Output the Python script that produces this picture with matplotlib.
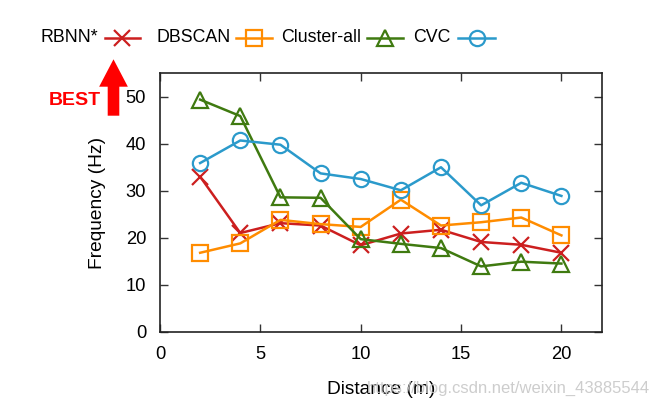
import matplotlib
matplotlib.use('Agg')
import matplotlib.pyplot as plt
from matplotlib.patches import FancyArrow

plt.rcParams['font.family'] = ['Liberation Sans', 'DejaVu Sans']

distance = [2, 4, 6, 8, 10, 12, 14, 16, 18, 20]
rbnn = [33.0, 21.0, 23.1, 22.6, 18.4, 20.9, 21.7, 19.1, 18.5, 16.8]
dbscan = [16.8, 18.8, 23.8, 22.9, 22.3, 28.1, 22.6, 23.3, 24.3, 20.5]
cluster_all = [49.4, 45.9, 28.6, 28.5, 19.7, 18.7, 17.8, 13.9, 14.9, 14.5]
cvc = [35.9, 40.7, 39.8, 33.7, 32.5, 30.1, 35.0, 26.9, 31.7, 28.9]

x_ticks = [0, 5, 10, 15, 20]
y_ticks = [0, 10, 20, 30, 40, 50]

series = [
    ("RBNN*", rbnn, '#cc1f1f', 'x'),
    ("DBSCAN", dbscan, '#ff8c00', 's'),
    ("Cluster-all", cluster_all, '#3f7a10', '^'),
    ("CVC", cvc, '#2b9acb', 'o'),
]

fig = plt.figure(figsize=(6.59, 4.05), dpi=100)
ax = fig.add_axes([0.2428, 0.181, 0.670, 0.638])

for name, vals, color, mk in series:
    ax.plot(distance, vals, color=color, lw=1.8, marker=mk, markersize=11 if mk != 'x' else 12,
            markerfacecolor='none', markeredgecolor=color, markeredgewidth=1.6)

ax.set_xlim(0, 22)
ax.set_ylim(0, 55)
ax.set_xticks(x_ticks)
ax.set_yticks(y_ticks)
ax.tick_params(direction='in', top=True, right=True, length=6, width=1, labelsize=13.2, pad=10, color='#333333')
for s in ax.spines.values():
    s.set_linewidth(1.2)
    s.set_color('#222222')
ax.set_xlabel("Distance (m)", fontsize=13.8, labelpad=13)
ax.set_ylabel("Frequency (Hz)", fontsize=13.8, labelpad=14)

# gnuplot style key: label then sample
lx_text = [40, 156, 281, 413]
lx_line = [(105, 140), (236, 272), (367, 403), (458, 495)]
ly = 38
W, H = 659, 405
for (name, vals, color, mk), tx, (x0, x1) in zip(series, lx_text, lx_line):
    fig.text(tx / W, 1 - ly / H, name, fontsize=12.8, va='center', ha='left')
    fig.add_artist(plt.Line2D([x0 / W, x1 / W], [1 - ly / H] * 2, color=color, lw=1.8,
                              transform=fig.transFigure))
    fig.add_artist(plt.Line2D([(x0 + x1) / 2 / W], [1 - ly / H], marker=mk, markersize=11 if mk != 'x' else 12,
                              markerfacecolor='none', markeredgecolor=color, markeredgewidth=1.6,
                              transform=fig.transFigure))

# BEST arrow
arr = FancyArrow(113.5 / W, 1 - 115.7 / H, 0, (115.7 - 59.3) / H, width=11.6 / W,
                 head_width=28.7 / W, head_length=27.4 / H, length_includes_head=True,
                 transform=fig.transFigure, color='#ff0000', lw=0)
fig.add_artist(arr)
fig.text(75 / W, 1 - 100.7 / H, "BEST", color='#ff0000', fontsize=14, fontweight='bold',
         ha='center', va='center')

fig.text(650 / W, 1 - 388 / H, "https://blog.csdn.net/weixin_43885544", color='#c8c8c8',
         fontsize=12, ha='right', va='center', alpha=0.9)

fig.savefig('out.png', dpi=100, facecolor='white')
